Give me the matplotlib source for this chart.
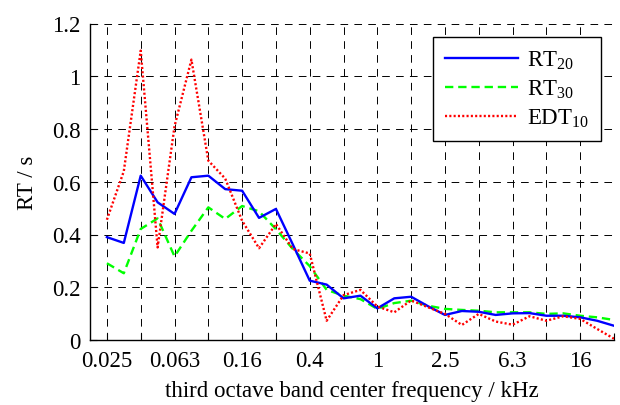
import matplotlib
matplotlib.use("Agg")
import matplotlib.pyplot as plt

plt.rcParams['font.family'] = ['Liberation Serif', 'DejaVu Serif']
plt.rcParams['mathtext.default'] = 'regular'
plt.rcParams['lines.scale_dashes'] = False

# third-octave band centre frequencies (kHz), 0.025 .. 20
bands = ['0.025', '0.0315', '0.04', '0.05', '0.063', '0.08', '0.1', '0.125', '0.16', '0.2',
         '0.25', '0.315', '0.4', '0.5', '0.63', '0.8', '1', '1.25', '1.6', '2',
         '2.5', '3.15', '4', '5', '6.3', '8', '10', '12.5', '16', '20']

rt20 = [0.39, 0.368, 0.623, 0.522, 0.478, 0.617, 0.623, 0.572, 0.566, 0.463,
        0.497, 0.362, 0.225, 0.21, 0.158, 0.168, 0.12, 0.158, 0.164, 0.128,
        0.095, 0.11, 0.107, 0.095, 0.101, 0.102, 0.092, 0.092, 0.086, 0.073, 0.054]
rt30 = [0.291, 0.253, 0.421, 0.461, 0.317, 0.414, 0.503, 0.459, 0.508, 0.488,
        0.42, 0.345, 0.28, 0.19, 0.168, 0.155, 0.118, 0.14, 0.149, 0.13,
        0.118, 0.114, 0.111, 0.105, 0.105, 0.105, 0.099, 0.101, 0.092, 0.086, 0.076]
edt10 = [0.456, 0.64, 1.097, 0.351, 0.81, 1.063, 0.68, 0.612, 0.452, 0.348,
         0.44, 0.345, 0.328, 0.073, 0.17, 0.19, 0.127, 0.105, 0.15, 0.124,
         0.099, 0.057, 0.099, 0.07, 0.058, 0.09, 0.073, 0.09, 0.08, 0.042, 0.005]

tick_labels = ['0.025', '0.063', '0.16', '0.4', '1', '2.5', '6.3', '16']

x = list(range(len(rt20)))

fig = plt.figure(figsize=(6.2, 4.06), dpi=100)
ax = fig.add_axes([90/620, 1-341/406, 524/620, 316.5/406])

ax.plot(x, rt20, color='#0000ff', lw=1.7, label=r'RT$_{20}$', zorder=4)
ax.plot(x, rt30, color='#00ff00', lw=1.7, ls=(0, (6, 3.5)), label=r'RT$_{30}$', zorder=3)
ax.plot(x, edt10, color='#ff0000', lw=1.7, ls=(0, (1.5, 1.6)), label=r'EDT$_{10}$', zorder=5)

ax.set_xlim(-1, 30)
ax.set_ylim(0, 1.2)

xt = list(range(0, 31, 2))
ax.set_xticks(xt)
lbl_map = {i * 4: t for i, t in enumerate(tick_labels)}
ax.set_xticklabels([lbl_map.get(v, '') for v in xt])
ax.set_yticks([0, 0.2, 0.4, 0.6, 0.8, 1.0, 1.2])
ax.set_yticklabels(['0', '0.2', '0.4', '0.6', '0.8', '1', '1.2'])

ax.tick_params(direction='in', length=5, width=0.8, labelsize=16.5, colors='black', pad=7)
ax.grid(True, color='black', ls=(0, (5.5, 4.5)), lw=0.7)
ax.set_axisbelow(True)

for s in ['top', 'right']:
    ax.spines[s].set_visible(False)
for s in ['left', 'bottom']:
    ax.spines[s].set_linewidth(1.0)
    ax.spines[s].set_color('black')

ax.set_xlabel('third octave band center frequency / kHz', fontsize=16.5, labelpad=7)
ax.set_ylabel('RT / s', fontsize=16.5, labelpad=10)

leg = ax.legend(loc='upper right', bbox_to_anchor=(0.975, 0.957), borderaxespad=0,
                fontsize=16.5, handlelength=3.2, handletextpad=0.4, fancybox=False,
                framealpha=1, edgecolor='black', borderpad=0.5, labelspacing=0.3)
leg.get_frame().set_linewidth(1.0)

fig.savefig('out.png', dpi=100)
